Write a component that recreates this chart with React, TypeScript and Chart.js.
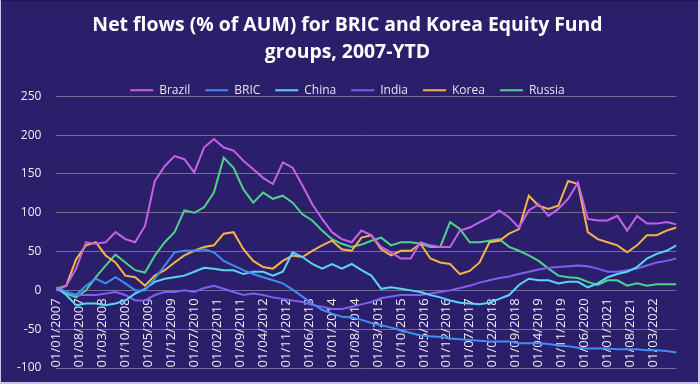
import React, { useEffect, useRef } from "react";
import { Chart, registerables } from "chart.js";

Chart.register(...registerables);

// Month index (0 = Jan 2007) of each sample, one sample per quarter
const sampleStepMonths = 3;

const tickLabels = [
  "01/01/2007", "01/08/2007", "01/03/2008", "01/10/2008", "01/05/2009", "01/12/2009",
  "01/07/2010", "01/02/2011", "01/09/2011", "01/04/2012", "01/11/2012", "01/06/2013",
  "01/01/2014", "01/08/2014", "01/03/2015", "01/10/2015", "01/05/2016", "01/12/2016",
  "01/07/2017", "01/02/2018", "01/09/2018", "01/04/2019", "01/11/2019", "01/06/2020",
  "01/01/2021", "01/08/2021", "01/03/2022",
];
const tickEveryMonths = 7;

const seriesNames = ["Brazil", "BRIC", "China", "India", "Korea", "Russia"];

const brazil = [
  0, 6, 28, 62, 60, 62, 75, 66, 62, 83, 141, 160, 173, 169, 152, 184,
  195, 184, 180, 167, 156, 145, 137, 165, 158, 135, 111, 92, 75, 66, 62, 77,
  71, 56, 49, 41, 41, 62, 58, 56, 56, 77, 81, 88, 94, 103, 94, 81,
  103, 111, 96, 105, 118, 139, 92, 90, 90, 96, 77, 96, 86, 86, 88, 85,
];
const bric = [
  4, -2, -6, 6, 15, 9, 17, 9, 0, 0, 15, 32, 49, 51, 51, 53,
  49, 38, 32, 26, 21, 17, 13, 9, 1, -8, -17, -25, -30, -34, -35, -38,
  -42, -45, -48, -51, -55, -58, -59, -60, -62, -63, -64, -65, -66, -66, -66, -68,
  -68, -68, -69, -71, -72, -74, -75, -75, -75, -76, -76, -76, -77, -77, -78, -80,
];
const china = [
  4, -6, -19, -17, -17, -19, -17, -13, -4, 2, 11, 15, 17, 19, 24, 29,
  28, 26, 26, 21, 24, 24, 19, 24, 49, 43, 34, 28, 34, 28, 34, 26,
  19, 2, 4, 2, 0, -2, -6, -9, -13, -16, -17, -18, -16, -11, -6, 7,
  15, 13, 13, 9, 11, 11, 4, 9, 17, 21, 24, 30, 41, 47, 51, 58,
];
const india = [
  4, -2, -6, -6, -6, -4, -2, -6, -13, -13, -6, -2, -2, 0, -2, 3,
  6, 2, -2, -6, -4, -6, -9, -11, -13, -15, -19, -21, -24, -24, -21, -18,
  -15, -10, -8, -6, -6, -6, -4, -2, 0, 3, 6, 10, 13, 16, 18, 21,
  24, 27, 29, 30, 31, 32, 31, 28, 24, 24, 26, 28, 32, 36, 38, 41,
];
const korea = [
  2, 6, 40, 58, 62, 45, 36, 19, 17, 6, 19, 26, 36, 45, 51, 56,
  58, 73, 75, 53, 38, 30, 28, 38, 45, 43, 51, 58, 64, 53, 51, 68,
  71, 53, 45, 51, 51, 60, 41, 36, 34, 21, 25, 36, 62, 64, 73, 79,
  122, 109, 105, 109, 141, 137, 75, 66, 62, 58, 49, 58, 71, 71, 77, 81,
];
const russia = [
  2, -4, -9, 0, 17, 32, 46, 36, 26, 23, 45, 62, 75, 103, 100, 107,
  126, 171, 158, 130, 113, 126, 118, 122, 113, 98, 90, 77, 66, 60, 56, 59,
  64, 68, 58, 62, 62, 60, 56, 56, 88, 79, 62, 62, 64, 66, 56, 51,
  45, 38, 28, 19, 17, 16, 11, 7, 13, 13, 6, 9, 6, 8, 8, 8,
];

const seriesValues = [brazil, bric, china, india, korea, russia];
const seriesColors = ["#c562e6", "#3f8ef2", "#5ad6f4", "#7e5ff0", "#f7b44a", "#50d38a"];

const yMin = -100;
const yMax = 250;
const yStep = 50;

const BG = "#2b1e6b";
const FONT = "'Open Sans', 'DejaVu Sans', sans-serif";

export default function App() {
  const canvasRef = useRef<HTMLCanvasElement | null>(null);

  useEffect(() => {
    document.body.style.margin = "0";
    const canvas = canvasRef.current;
    if (!canvas) return;

    const lastMonth = (brazil.length - 1) * sampleStepMonths;

    const datasets = seriesNames.map((name, s) => ({
      label: name,
      data: seriesValues[s].map((v, i) => ({ x: i * sampleStepMonths, y: v })),
      borderColor: seriesColors[s],
      backgroundColor: seriesColors[s],
      borderWidth: 2,
      pointRadius: 0,
      tension: 0,
      fill: false,
    }));

    const bgPlugin = {
      id: "bgPlugin",
      beforeDraw(chart: any) {
        const { ctx, width, height } = chart;
        ctx.save();
        ctx.fillStyle = BG;
        ctx.fillRect(0, 0, width, height);
        ctx.restore();
      },
      afterDraw(chart: any) {
        const { ctx, width, height } = chart;
        ctx.save();
        ctx.fillStyle = "#1e1552";
        ctx.fillRect(0, 0, width, 1);
        ctx.fillStyle = "#c9c1e6";
        ctx.fillRect(0, 0, 1, height);
        ctx.fillRect(width - 2, 0, 2, height);
        ctx.fillRect(0, height - 2, width, 2);
        ctx.restore();
      },
    };

    const legendFitPlugin = {
      id: "legendFitPlugin",
      beforeLayout(chart: any) {
        const lg = chart.legend;
        if (lg && !lg.__patched) {
          const orig = lg.fit;
          lg.fit = function () {
            orig.call(this);
            this.height = Math.max(0, this.height - 10);
          };
          lg.__patched = true;
        }
      },
    };

    const chart = new Chart(canvas, {
      type: "line",
      data: { datasets },
      plugins: [bgPlugin, legendFitPlugin],
      options: {
        animation: false,
        responsive: false,
        devicePixelRatio: 1,
        layout: { padding: { left: 10, right: 15, bottom: 16, top: 0 } },
        plugins: {
          title: {
            display: true,
            text: ["Net flows (% of AUM) for BRIC and Korea Equity Fund", "groups, 2007-YTD"],
            color: "#ffffff",
            font: { family: FONT, size: 19.4, weight: "bold", lineHeight: 1.4 },
            padding: { top: 12, bottom: 3 },
          },
          legend: {
            display: true,
            position: "top",
            labels: {
              color: "#e6e3f5",
              font: { family: FONT, size: 12 },
              boxWidth: 23,
              boxHeight: 0,
              padding: 15,
            },
          },
          tooltip: { enabled: false },
        },
        scales: {
          x: {
            type: "linear",
            min: 0,
            max: lastMonth,
            position: { y: 0 } as any,
            grid: { display: false, drawTicks: false },
            border: { display: false },
            ticks: {
              stepSize: tickEveryMonths,
              autoSkip: false,
              maxRotation: 90,
              minRotation: 90,
              padding: 8,
              color: "#f0eefa",
              font: { family: FONT, size: 13 },
              callback: (v: any) => {
                const idx = Math.round(Number(v) / tickEveryMonths);
                return tickLabels[idx] ?? "";
              },
            },
          },
          y: {
            min: yMin,
            max: yMax,
            grid: {
              color: "#736e92",
              lineWidth: 1,
              drawTicks: true,
              tickLength: 8,
              tickColor: "rgba(0,0,0,0)",
            },
            border: { display: false },
            ticks: {
              stepSize: yStep,
              padding: 7,
              color: "#f0eefa",
              font: { family: FONT, size: 12 },
            },
          },
        },
      },
    });

    return () => chart.destroy();
  }, []);

  return (
    <div style={{ width: 700, height: 384 }}>
      <canvas ref={canvasRef} width={700} height={384} style={{ display: "block" }} />
    </div>
  );
}
